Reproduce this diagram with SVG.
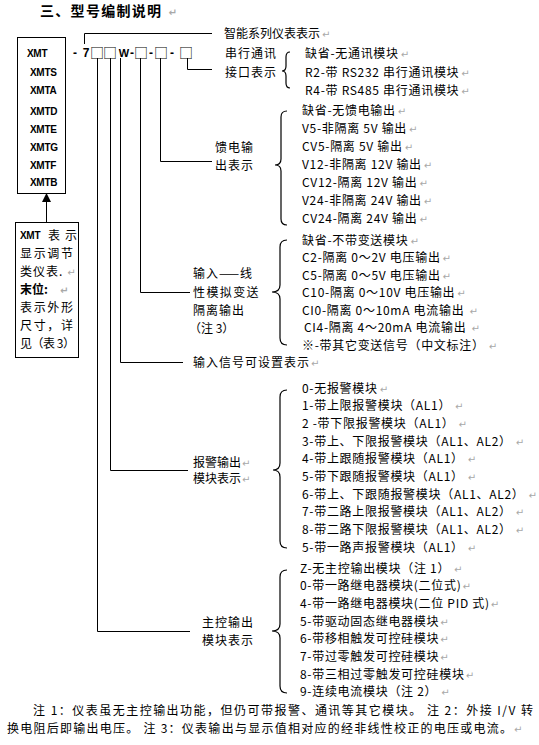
<svg xmlns="http://www.w3.org/2000/svg" width="539" height="745" viewBox="0 0 539 745">
<style>
.t{font-family:"Noto Sans CJK SC","Liberation Sans",sans-serif;font-size:12px;fill:#000}
.it{letter-spacing:0.7px}
.lb{letter-spacing:1px}
.pm{fill:#a8a8a8;font-size:10px;font-family:"DejaVu Sans",sans-serif;letter-spacing:0}
.b{font-family:"Liberation Sans",Arial,sans-serif;font-weight:bold;font-size:10px;fill:#000;letter-spacing:-0.3px}
.cd{font-family:"Liberation Sans",Arial,sans-serif;font-weight:bold;font-size:12px;fill:#000;text-anchor:middle}
.sq{font-family:"Noto Sans CJK SC",sans-serif;font-size:14px;fill:#000;text-anchor:middle}
.ln{stroke:#000;stroke-width:1;fill:none}
.br{stroke:#000;stroke-width:1.2;fill:none}
</style>
<rect width="539" height="745" fill="#fff"/>

<g id="title">
<text class="t" x="40" y="16" style="font-size:14px;font-weight:bold;letter-spacing:1.3px">三、型号编制说明<tspan class="pm" dx="6">↵</tspan></text>
</g>

<g id="model-box">
<rect x="17.5" y="37.5" width="48" height="156" class="ln"/>
<text class="b" x="27" y="56.6">XMT</text>
<text class="b" x="30" y="75.6">XMTS</text>
<text class="b" x="30" y="93.6">XMTA</text>
<text class="b" x="30" y="114.6">XMTD</text>
<text class="b" x="30" y="132.6">XMTE</text>
<text class="b" x="30" y="150.6">XMTG</text>
<text class="b" x="30" y="168.6">XMTF</text>
<text class="b" x="30" y="185.6">XMTB</text>
</g>

<g id="desc-box">
<rect x="15.5" y="222.5" width="63" height="135" class="ln"/>
<text class="b" x="20" y="238.6">XMT</text>
<text class="t" x="48" y="239.5" style="letter-spacing:5px">表示</text>
<text class="t" x="20" y="257.5" textLength="53" lengthAdjust="spacing">显示调节</text>
<text class="t" x="20" y="275.5" style="letter-spacing:1px">类仪表.<tspan class="pm" dx="4">↵</tspan></text>
<text class="t" x="20" y="293.5" style="font-weight:bold">末位:<tspan class="pm" dx="12">↵</tspan></text>
<text class="t" x="20" y="311.5" textLength="53" lengthAdjust="spacing">表示外形</text>
<text class="t" x="20" y="329.5" textLength="53" lengthAdjust="spacing">尺寸，详</text>
<text class="t" x="20" y="347.5" textLength="55" lengthAdjust="spacing">见（表 3）</text>
</g>

<g id="model-code">
<text class="cd" x="75" y="56.5">-</text>
<text class="cd" x="86" y="57">7</text>
<text class="sq" x="97" y="58">□</text>
<text class="sq" x="110" y="58">□</text>
<text class="cd" x="124" y="57" style="font-size:11px">W</text>
<text class="cd" x="132" y="56.5">-</text>
<text class="sq" x="141" y="58">□</text>
<text class="cd" x="151" y="56.5">-</text>
<text class="sq" x="161" y="58">□</text>
<text class="cd" x="172" y="56.5">-</text>
<text class="sq" x="186" y="58">□</text>
</g>

<g id="connectors">
<path class="ln" d="M84.5,44 V33.5 H212"/>
<path class="ln" d="M97.5,58 V631.5 H190"/>
<path class="ln" d="M110.5,58 V470.5 H188"/>
<path class="ln" d="M120.5,58 V362.5 H183"/>
<path class="ln" d="M140.5,58 V292.5 H190"/>
<path class="ln" d="M160.5,58 V161.5 H212"/>
<path class="ln" d="M187.5,58 V69.5 H212"/>
<path class="ln" d="M46.5,201 V222"/>
<polygon points="46.5,193 42,202 51,202" fill="#000"/>
</g>

<g id="series">
<text class="t" x="224" y="38">智能系列仪表表示<tspan class="pm" dx="2">↵</tspan></text>
</g>

<g id="serial">
<text class="t lb" x="225" y="57.5">串行通讯</text>
<text class="t lb" x="225" y="76.5">接口表示</text>
<path class="br" d="M290,52 Q286,52 286,57 L286,66 Q286,71 282,71 Q286,71 286,76 L286,83 Q286,88 290,88"/>
<text class="t it" x="305" y="57.5">缺省-无通讯模块<tspan class="pm" dx="2">↵</tspan></text>
<text class="t it" x="305" y="76.5">R2-带 RS232 串行通讯模块<tspan class="pm" dx="2">↵</tspan></text>
<text class="t it" x="305" y="94.5">R4-带 RS485 串行通讯模块<tspan class="pm" dx="2">↵</tspan></text>
</g>

<g id="feed">
<text class="t lb" x="215" y="151.5">馈电输</text>
<text class="t lb" x="215" y="169.5">出表示</text>
<path class="br" d="M287,111 Q281,111 281,117 L281,159 Q281,165 275,165 Q281,165 281,171 L281,219 Q281,225 287,225"/>
<text class="t it" x="302" y="114.5">缺省-无馈电输出<tspan class="pm" dx="2">↵</tspan></text>
<text class="t it" x="302" y="132.5">V5-非隔离 5V 输出<tspan class="pm" dx="2">↵</tspan></text>
<text class="t it" x="302" y="150.5">CV5-隔离 5V 输出<tspan class="pm" dx="2">↵</tspan></text>
<text class="t it" x="302" y="168.5">V12-非隔离 12V 输出<tspan class="pm" dx="2">↵</tspan></text>
<text class="t it" x="302" y="186.5">CV12-隔离 12V 输出<tspan class="pm" dx="2">↵</tspan></text>
<text class="t it" x="302" y="204.5">V24-非隔离 24V 输出<tspan class="pm" dx="2">↵</tspan></text>
<text class="t it" x="302" y="222.5">CV24-隔离 24V 输出<tspan class="pm" dx="2">↵</tspan></text>
</g>

<g id="transmit">
<text class="t lb" x="193" y="277.5">输入——线</text>
<text class="t" x="193" y="296.5" style="letter-spacing:1.4px">性模拟变送</text>
<text class="t lb" x="193" y="314.5">隔离输出</text>
<text class="t" x="189" y="332.5">（注 3）</text>
<path class="br" d="M287,240 Q280,240 280,247 L280,285 Q280,292 272,292 Q280,292 280,299 L280,338 Q280,345 287,345"/>
<text class="t it" x="302" y="244.5">缺省-不带变送模块<tspan class="pm" dx="2">↵</tspan></text>
<text class="t it" x="302" y="262">C2-隔离 0～2V 电压输出<tspan class="pm" dx="2">↵</tspan></text>
<text class="t it" x="302" y="279.5">C5-隔离 0～5V 电压输出<tspan class="pm" dx="2">↵</tspan></text>
<text class="t it" x="302" y="297">C10-隔离 0～10V 电压输出<tspan class="pm" dx="2">↵</tspan></text>
<text class="t it" x="302" y="314.5">CI0-隔离 0～10mA 电流输出<tspan class="pm" dx="5">↵</tspan></text>
<text class="t it" x="304" y="332">CI4-隔离 4～20mA 电流输出<tspan class="pm" dx="5">↵</tspan></text>
<text class="t it" x="302" y="349.5">※-带其它变送信号（中文标注）<tspan class="pm" dx="4">↵</tspan></text>
</g>

<g id="input-signal">
<text class="t lb" x="193" y="366.5">输入信号可设置表示<tspan class="pm" dx="1">↵</tspan></text>
</g>

<g id="alarm">
<text class="t" x="193" y="466.5">报警输出<tspan class="pm" dx="1">↵</tspan></text>
<text class="t" x="193" y="482.5">模块表示<tspan class="pm" dx="1">↵</tspan></text>
<path class="br" d="M287,390 Q280,390 280,397 L280,463 Q280,470 273,470 Q280,470 280,477 L280,541 Q280,548 287,548"/>
<text class="t it" x="302" y="392.5">0-无报警模块<tspan class="pm" dx="2">↵</tspan></text>
<text class="t it" x="302" y="410.2">1-带上限报警模块（AL1）<tspan class="pm" dx="4">↵</tspan></text>
<text class="t it" x="302" y="427.9">2 -带下限报警模块（AL1）<tspan class="pm" dx="4">↵</tspan></text>
<text class="t it" x="302" y="445.6">3-带上、下限报警模块（AL1、AL2）<tspan class="pm" dx="4">↵</tspan></text>
<text class="t it" x="302" y="463.3">4-带上跟随报警模块（AL1）<tspan class="pm" dx="4">↵</tspan></text>
<text class="t it" x="302" y="481">5-带下跟随报警模块（AL1）<tspan class="pm" dx="4">↵</tspan></text>
<text class="t it" x="302" y="498.7">6-带上、下跟随报警模块（AL1、AL2）<tspan class="pm" dx="4">↵</tspan></text>
<text class="t it" x="302" y="516.4">7-带二路上限报警模块（AL1、AL2）<tspan class="pm" dx="4">↵</tspan></text>
<text class="t it" x="302" y="534.1">8-带二路下限报警模块（AL1、AL2）<tspan class="pm" dx="4">↵</tspan></text>
<text class="t it" x="302" y="551.8">5-带一路声报警模块（AL1）<tspan class="pm" dx="4">↵</tspan></text>
</g>

<g id="main-control">
<text class="t lb" x="202" y="626.5">主控输出</text>
<text class="t lb" x="202" y="644.5">模块表示</text>
<path class="br" d="M287,570 Q280,570 280,577 L280,624 Q280,631 272,631 Q280,631 280,638 L280,686 Q280,693 287,693"/>
<text class="t it" x="300" y="572.5">Z-无主控输出模块（注 1）<tspan class="pm" dx="4">↵</tspan></text>
<text class="t it" x="300" y="590.2">0-带一路继电器模块(二位式)<tspan class="pm" dx="1">↵</tspan></text>
<text class="t it" x="300" y="607.9">4-带一路继电器模块(二位 PID 式)<tspan class="pm" dx="1">↵</tspan></text>
<text class="t it" x="300" y="625.6">5-带驱动固态继电器模块<tspan class="pm" dx="1">↵</tspan></text>
<text class="t it" x="300" y="643.3">6-带移相触发可控硅模块<tspan class="pm" dx="1">↵</tspan></text>
<text class="t it" x="300" y="661">7-带过零触发可控硅模块<tspan class="pm" dx="1">↵</tspan></text>
<text class="t it" x="300" y="678.7">8-带三相过零触发可控硅模块<tspan class="pm" dx="1">↵</tspan></text>
<text class="t it" x="300" y="696.4">9-连续电流模块（注 2）<tspan class="pm" dx="4">↵</tspan></text>
</g>

<g id="notes">
<text class="t" x="33" y="715" textLength="500" lengthAdjust="spacing">注 1：仪表虽无主控输出功能，但仍可带报警、通讯等其它模块。  注 2：外接 I/V 转</text>
<text class="t" x="7" y="733" textLength="505" lengthAdjust="spacing">换电阻后即输出电压。  注 3：仪表输出与显示值相对应的经非线性校正的电压或电流。</text>
<text class="pm" x="514" y="733">↵</text>
</g>
</svg>
